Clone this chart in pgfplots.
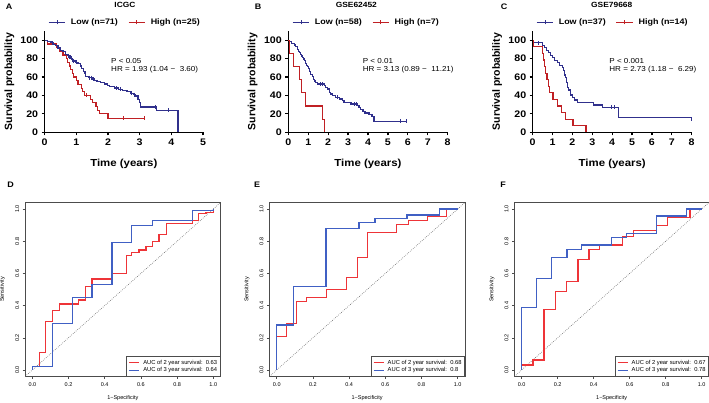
\documentclass[border=0pt]{standalone}
\usepackage{fontspec}
\setmainfont{Liberation Sans}
\newfontfamily\kmfont{Liberation Sans}[FakeStretch=1.12]
\usepackage{pgfplots}
\pgfplotsset{compat=1.18}
\definecolor{kmblue}{RGB}{48,48,140}
\definecolor{kmred}{RGB}{192,32,36}
\definecolor{rocred}{RGB}{238,52,56}
\definecolor{rocblue}{RGB}{64,96,196}
\tikzset{hr/.style={anchor=west, font=\kmfont\fontsize{7.2}{8}\selectfont, inner sep=0pt}}
\pgfplotsset{
 km/.style={
  scale only axis, height=101.2pt, anchor=south west,
  axis x line=bottom, axis y line=left,
  axis line style={line width=1.2pt,-},
  ymin=0, ymax=110, ytick={0,20,40,60,80,100}, xmin=0,
  tick align=outside, major tick length=3pt,
  every tick/.style={black,line width=1.2pt},
  /pgf/number format/assume math mode=true,
  tick label style={font=\kmfont\bfseries\fontsize{9.5}{10}\selectfont},
  xlabel={Time (years)}, ylabel={Survival probability},
  xlabel style={at={(axis description cs:0.5,-0.316)}, anchor=center, font=\kmfont\bfseries\fontsize{10.2}{11}\selectfont},
  ylabel style={at={(axis description cs:-0.223,0.5)}, anchor=center, font=\bfseries\fontsize{10.5}{11}\selectfont},
  clip=false,
  legend columns=2,
  legend image code/.code={\draw[#1] (0pt,0pt)--(16.6pt,0pt); \draw[#1,line width=0.8pt] (8.3pt,-2pt)--(8.3pt,2.2pt);},
  legend style={draw=none, fill=none, anchor=center, font=\kmfont\bfseries\fontsize{8}{9}\selectfont,
    /tikz/every odd column/.append style={column sep=3pt},
    /tikz/every even column/.append style={column sep=8pt}},
  title style={anchor=center, font=\kmfont\bfseries\fontsize{7.5}{8}\selectfont},
 },
 cen/.style={only marks, mark=|, mark size=2pt, mark options={line width=0.7pt}, forget plot},
 kml/.style={line width=1.2pt, const plot, forget plot},
 roc/.style={
  scale only axis, height=173.8pt, anchor=south west,
  xmin=-0.04, xmax=1.04, ymin=-0.04, ymax=1.04,
  xtick={0,0.2,0.4,0.6,0.8,1}, ytick={0,0.2,0.4,0.6,0.8,1},
  xtick pos=left, ytick pos=left,
  axis line style={gray!60!black, line width=0.5pt},
  tick align=outside, major tick length=2.5pt,
  every tick/.style={gray!60!black, line width=0.5pt},
  /pgf/number format/assume math mode=true,
  /pgf/number format/fixed, /pgf/number format/fixed zerofill, /pgf/number format/precision=1,
  tick label style={font=\fontsize{5.5}{6}\selectfont},
  yticklabel style={rotate=90, anchor=south, xshift=0pt},
  xlabel={1−Specificity}, ylabel={Sensitivity},
  xlabel style={at={(axis description cs:0.5,-0.1266)}, anchor=center, font=\fontsize{5.5}{6}\selectfont},
  ylabel style={at={(axis description cs:-0.1157,0.5)}, anchor=center, font=\fontsize{5.5}{6}\selectfont},
  legend image code/.code={\draw[#1] (0pt,0pt)--(10pt,0pt);},
  legend cell align=left,
  legend style={at={(1,0)}, anchor=south east, draw=gray!60!black, line width=0.5pt, fill=white,
    font=\fontsize{5.8}{6.2}\selectfont, inner xsep=2.2pt, inner ysep=2.2pt, nodes={inner sep=0.9pt},
    /tikz/every odd column/.append style={column sep=2.5pt}},
 },
 rocline/.style={line width=1.2pt},
 diag/.style={gray!85!black, line width=0.6pt, dash pattern=on 0.7pt off 1.3pt, forget plot},
}
\begin{document}
\begin{tikzpicture}
\useasboundingbox (0,0) rectangle (709pt,403pt);
% ---------------- A ----------------
\begin{axis}[km, at={(44.7pt,270.7pt)}, width=158.3pt, xmax=5, xtick={0,1,2,3,4,5},
  title={ICGC}, title style={at={(axis description cs:0.507,1.199)}},
  legend style={at={(axis description cs:0.507,1.085)}}]
\addlegendimage{kmblue, line width=1.2pt}\addlegendentry{Low (n=71)}
\addlegendimage{kmred, line width=1.2pt}\addlegendentry{High (n=25)}
\addplot[kmred, kml] coordinates {
(0,100) (0.1,96) (0.38,92) (0.48,88) (0.58,84) (0.68,80) (0.72,76) (0.78,72) (0.82,68) (0.88,64) (0.92,60) (1.0,56) (1.05,52) (1.15,48) (1.2,44) (1.25,40) (1.45,36) (1.52,32) (1.62,28) (1.68,24) (1.72,20) (2.0,15) (3.16,15)};
\addplot[kmred, cen] coordinates {(1.3,40) (2.5,15) (3.16,15)};
\addplot[kmblue, kml] coordinates {
(0,100) (0.08,98.6) (0.2,97.2) (0.28,95.8) (0.35,94.4) (0.42,91.6) (0.5,88.8) (0.58,87.4) (0.65,84.6) (0.72,83.2) (0.8,80.4) (0.88,77.6) (0.98,76.2) (1.05,74.8) (1.12,72) (1.17,69.2) (1.22,66.4) (1.27,63.6) (1.3,60.8) (1.4,59.4) (1.5,58) (1.58,56.6) (1.65,55.2) (1.75,53.8) (1.88,52.4) (1.98,51) (2.05,49.6) (2.2,48.2) (2.32,46.8) (2.45,45.4) (2.6,44) (2.7,42.5) (2.8,41) (2.88,39.5) (2.95,36) (2.99,32) (3.02,27.5) (3.52,24) (4.21,24) (4.21,0)};
\addplot[kmblue, cen] coordinates {(0.25,97.2) (0.75,83.2) (0.84,80.4) (0.92,77.6) (1.0,76.2) (1.42,59.4) (1.47,59.4) (1.55,58) (2.25,48.2) (2.4,46.8) (2.75,42.5) (2.84,41) (3.5,27.5) (3.9,24)};
\node[hr] at (axis cs:2.094,77.5) {P < 0.05};
\node[hr] at (axis cs:2.094,67.7) {HR = 1.93 (1.04 −\ \ 3.60)};
\end{axis}
% ---------------- B ----------------
\begin{axis}[km, at={(288.3pt,270.7pt)}, width=159.4pt, xmax=8, xtick={0,1,2,3,4,5,6,7,8},
  title={GSE62452}, title style={at={(axis description cs:0.427,1.199)}},
  legend style={at={(axis description cs:0.49,1.085)}}]
\addlegendimage{kmblue, line width=1.2pt}\addlegendentry{Low (n=58)}
\addlegendimage{kmred, line width=1.2pt}\addlegendentry{High (n=7)}
\addplot[kmblue, kml] coordinates {
(0,100) (0.05,98.3) (0.15,96.6) (0.3,94.9) (0.38,93.2) (0.45,89.8) (0.5,88.1) (0.55,86.4) (0.6,84.7) (0.65,83) (0.7,81.3) (0.75,79.6) (0.8,77.9) (0.85,74.5) (0.9,72.8) (0.95,71.1) (1.0,69.4) (1.05,66) (1.12,62.6) (1.2,60.9) (1.25,57.5) (1.32,55.8) (1.38,54.1) (1.45,52.4) (1.8,50.6) (1.88,48.8) (1.95,47) (2.05,43.4) (2.12,41.6) (2.2,39.8) (2.35,38) (2.55,36.1) (2.7,34.3) (2.8,32.5) (3.15,30.7) (3.45,28.8) (3.55,26.9) (3.62,25) (3.75,23) (3.85,21) (4.05,19) (4.2,17) (4.3,12) (5.92,12)};
\addplot[kmblue, cen] coordinates {(1.6,52.4) (1.7,52.4) (2.45,38) (3.3,30.7) (3.4,30.7) (5.62,12) (5.92,12)};
\addplot[kmred, kml] coordinates {
(0,100) (0.08,85.7) (0.25,71.4) (0.55,57.1) (0.65,42.9) (0.87,28.6) (1.71,14.3) (1.82,14.3) (1.82,0)};
\node[hr] at (axis cs:3.73,77.5) {P < 0.01};
\node[hr] at (axis cs:3.73,67.7) {HR = 3.13 (0.89 −\ \ 11.21)};
\end{axis}
% ---------------- C ----------------
\begin{axis}[km, at={(532.7pt,270.7pt)}, width=159pt, xmax=8, xtick={0,1,2,3,4,5,6,7,8},
  title={GSE79668}, title style={at={(axis description cs:0.497,1.199)}},
  legend style={at={(axis description cs:0.504,1.085)}}]
\addlegendimage{kmblue, line width=1.2pt}\addlegendentry{Low (n=37)}
\addlegendimage{kmred, line width=1.2pt}\addlegendentry{High (n=14)}
\addplot[kmblue, kml] coordinates {
(0,100) (0.05,97.3) (0.5,94.6) (0.6,91.9) (0.7,89.2) (0.8,86.5) (0.9,83.8) (1.0,81.1) (1.1,78.4) (1.25,75.7) (1.35,73) (1.5,70.3) (1.55,67.6) (1.6,62.2) (1.65,59.5) (1.7,54.1) (1.75,48.6) (1.82,45.9) (1.9,40.5) (2.0,37.8) (2.1,35.1) (2.25,32.4) (3.05,29.7) (3.5,27) (4.3,16.2) (7.97,12.5)};
\addplot[kmblue, cen] coordinates {(0.3,97.3) (3.95,27) (4.1,27)};
\addplot[kmred, kml] coordinates {
(0,100) (0.05,92.9) (0.48,85.7) (0.55,78.6) (0.6,71.4) (0.65,64.3) (0.72,57.1) (0.78,50) (0.85,42.9) (1.02,35.7) (1.25,28.6) (1.45,21.4) (1.65,14.3) (2.03,7.1) (2.68,7.1) (2.68,0)};
\node[hr] at (axis cs:3.85,77.5) {P < 0.001};
\node[hr] at (axis cs:3.85,67.7) {HR = 2.73 (1.18 −\ \ 6.29)};
\end{axis}
% ---------------- D ----------------
\begin{axis}[roc, at={(25.1pt,26.6pt)}, width=195.4pt]
\addplot[diag] coordinates {(-0.04,-0.04) (1.04,1.04)};
\addplot[rocred, rocline] coordinates {(0,0)(0,0.02)(0.039,0.02)(0.039,0.11)(0.074,0.11)(0.074,0.30)(0.11,0.30)(0.11,0.37)(0.15,0.37)(0.15,0.41)(0.254,0.41)(0.254,0.435)(0.296,0.435)(0.296,0.52)(0.33,0.52)(0.33,0.565)(0.44,0.565)(0.44,0.60)(0.52,0.60)(0.52,0.71)(0.55,0.71)(0.55,0.73)(0.59,0.73)(0.59,0.745)(0.628,0.745)(0.628,0.766)(0.665,0.766)(0.665,0.797)(0.70,0.797)(0.70,0.84)(0.74,0.84)(0.74,0.91)(0.886,0.91)(0.886,0.93)(0.92,0.93)(0.92,0.97)(0.96,0.97)(0.96,0.98)(1,0.98)(1,1)};
\addlegendentry{AUC of 2 year survival:\ \ 0.63}
\addplot[rocblue, rocline] coordinates {(0,0)(0,0.02)(0.11,0.02)(0.11,0.29)(0.22,0.29)(0.22,0.45)(0.33,0.45)(0.33,0.53)(0.44,0.53)(0.44,0.79)(0.55,0.79)(0.55,0.90)(0.665,0.90)(0.665,0.93)(0.886,0.93)(0.886,0.99)(1,0.99)(1,1)};
\addlegendentry{AUC of 3 year survival:\ \ 0.64}
\end{axis}
% ---------------- E ----------------
\begin{axis}[roc, at={(269.5pt,26.6pt)}, width=195.4pt]
\addplot[diag] coordinates {(-0.04,-0.04) (1.04,1.04)};
\addplot[rocred, rocline] coordinates {(0,0)(0,0.21)(0.055,0.21)(0.055,0.29)(0.11,0.29)(0.11,0.424)(0.166,0.424)(0.166,0.45)(0.276,0.45)(0.276,0.50)(0.387,0.50)(0.387,0.576)(0.445,0.576)(0.445,0.70)(0.5,0.70)(0.5,0.855)(0.663,0.855)(0.663,0.905)(0.727,0.905)(0.727,0.93)(0.834,0.93)(0.834,0.955)(0.94,0.955)(0.94,1)(1,1)};
\addlegendentry{AUC of 2 year survival:\ \ 0.68}
\addplot[rocblue, rocline] coordinates {(0,0)(0,0.28)(0.092,0.28)(0.092,0.517)(0.272,0.517)(0.272,0.88)(0.455,0.88)(0.455,0.917)(0.543,0.917)(0.543,0.94)(0.72,0.94)(0.72,0.963)(0.90,0.963)(0.90,1)(1,1)};
\addlegendentry{AUC of 3 year survival:\ \ 0.8}
\end{axis}
% ---------------- F ----------------
\begin{axis}[roc, at={(514.5pt,26.6pt)}, width=194.4pt]
\addplot[diag] coordinates {(-0.04,-0.04) (1.04,1.04)};
\addplot[rocred, rocline] coordinates {(0,0)(0,0.031)(0.063,0.031)(0.063,0.062)(0.124,0.062)(0.124,0.377)(0.187,0.377)(0.187,0.49)(0.248,0.49)(0.248,0.55)(0.313,0.55)(0.313,0.688)(0.374,0.688)(0.374,0.75)(0.43,0.75)(0.43,0.776)(0.56,0.776)(0.56,0.83)(0.62,0.83)(0.62,0.865)(0.75,0.865)(0.75,0.90)(0.81,0.90)(0.81,0.948)(0.935,0.948)(0.935,1)(1,1)};
\addlegendentry{AUC of 2 year survival:\ \ 0.67}
\addplot[rocblue, rocline] coordinates {(0,0)(0,0.387)(0.081,0.387)(0.081,0.57)(0.165,0.57)(0.165,0.70)(0.252,0.70)(0.252,0.75)(0.331,0.75)(0.331,0.776)(0.498,0.776)(0.498,0.824)(0.583,0.824)(0.583,0.849)(0.75,0.849)(0.75,0.957)(0.917,0.957)(0.917,1)(1,1)};
\addlegendentry{AUC of 3 year survival:\ \ 0.78}
\end{axis}
% panel letters
\begin{scope}[every node/.style={font=\kmfont\bfseries\fontsize{8}{9}\selectfont, inner sep=0pt}]
\node at (9pt,396pt) {A};
\node at (258pt,396pt) {B};
\node at (504pt,396pt) {C};
\node at (10.5pt,218pt) {D};
\node at (257pt,218pt) {E};
\node at (503pt,218pt) {F};
\end{scope}
\end{tikzpicture}
\end{document}
